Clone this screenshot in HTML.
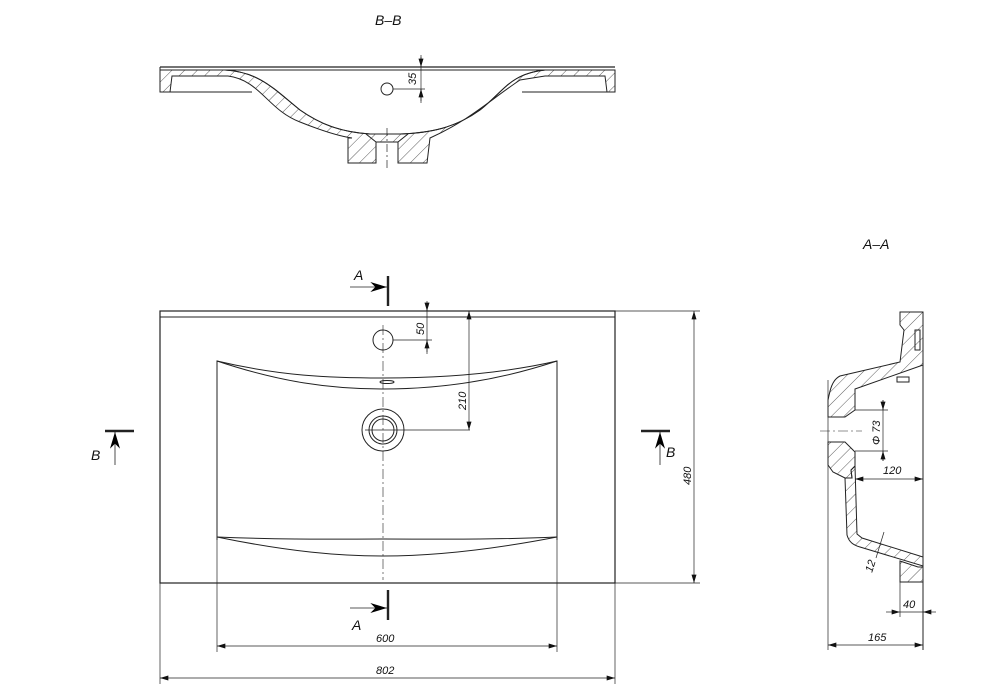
<!DOCTYPE html>
<html><head><meta charset="utf-8"><style>
html,body{margin:0;padding:0;background:#fff}
svg{display:block}
text{font-family:"Liberation Sans",sans-serif;font-style:italic;fill:#111}
</style></head><body>
<svg width="1001" height="700" viewBox="0 0 1001 700" xmlns="http://www.w3.org/2000/svg">
<defs>
<pattern id="h" patternUnits="userSpaceOnUse" width="9" height="9" patternTransform="rotate(45)">
<line x1="0" y1="0" x2="0" y2="9" stroke="#333" stroke-width="0.8"/>
</pattern>
<marker id="a" viewBox="0 0 10 6" refX="10" refY="3" markerWidth="9" markerHeight="5" orient="auto-start-reverse" markerUnits="userSpaceOnUse"><path d="M0,0 L10,3 L0,6 z" fill="#111"/></marker>
<marker id="b" viewBox="0 0 10 6" refX="10" refY="3" markerWidth="18" markerHeight="10" orient="auto" markerUnits="userSpaceOnUse"><path d="M0,0 L10,3 L0,6 L3,3 z" fill="#000"/></marker>
</defs>
<g fill="none" stroke="#222" stroke-width="1">

<!-- ===== B-B section ===== -->
<text x="375" y="25" font-size="14" stroke="none">B–B</text>
<line x1="160" y1="67" x2="615" y2="67" stroke-width="1.2"/>
<line x1="160" y1="70" x2="615" y2="70"/>
<path d="M160,67 L160,92 L170,92 L172,76 L228,76 C260,80 268,110 300,122 C330,134 345,137 352,138 L348,138 L348,163 L376,163 L376,142 L398,142 L398,163 L427,163 L430,138 C470,120 490,100 520,80 L545,76 L605,76 L607,92 L615,92 L615,70 L545,70 C510,74 505,90 480,110 C455,128 430,133 400,134 L370,134 C340,132 320,124 300,110 C275,90 260,72 225,70 L160,70 Z" fill="url(#h)"/>
<path d="M225,70 C260,72 275,90 300,110 C320,124 340,132 370,134 L400,134 C430,133 455,128 480,110 C505,90 510,74 545,70"/>
<line x1="170" y1="92" x2="252" y2="92"/>
<line x1="522" y1="92" x2="607" y2="92"/>
<path d="M366,134 L376,142 L376,163 M408,134 L398,142 L398,163"/>
<line x1="387" y1="128" x2="387" y2="170" stroke-dasharray="8,3,2,3" stroke-width="0.7"/>
<circle cx="387" cy="89" r="6"/>
<line x1="393" y1="89" x2="425" y2="89" stroke-width="0.7"/>
<line x1="421" y1="55" x2="421" y2="103" stroke-width="0.7"/>
<line x1="421" y1="57" x2="421" y2="67" marker-end="url(#a)" stroke-width="0.7"/>
<line x1="421" y1="101" x2="421" y2="89" marker-end="url(#a)" stroke-width="0.7"/>
<text transform="translate(416,85) rotate(-90)" font-size="11" stroke="none">35</text>

<!-- ===== Plan view ===== -->
<rect x="160" y="311" width="455" height="272" stroke-width="1.2"/>
<line x1="160" y1="317" x2="615" y2="317"/>
<line x1="615" y1="311" x2="700" y2="311" stroke-width="0.7"/>
<line x1="615" y1="583" x2="700" y2="583" stroke-width="0.7"/>
<path d="M217,540 L217,361 C280,376 330,378 383,378 C440,378 500,374 557,361 L557,540"/>
<path d="M217,361 C280,382 330,389 383,389 C440,389 500,380 557,361"/>
<path d="M217,537 C290,540 340,539 383,539 C430,539 490,540 557,537"/>
<path d="M217,537 C290,552 340,556 383,556 C430,556 490,550 557,537"/>
<ellipse cx="387" cy="382" rx="7" ry="1.5"/>
<circle cx="383" cy="340" r="10"/>
<circle cx="383" cy="430" r="21"/>
<circle cx="383" cy="430" r="14"/>
<circle cx="383" cy="430" r="11"/>
<line x1="383" y1="325" x2="383" y2="580" stroke-dasharray="10,3,2,3" stroke-width="0.6"/>
<line x1="365" y1="430" x2="470" y2="430" stroke-width="0.7"/>
<line x1="393" y1="340" x2="432" y2="340" stroke-width="0.7"/>
<line x1="427" y1="301" x2="427" y2="354" stroke-width="0.7"/>
<line x1="427" y1="303" x2="427" y2="311" marker-end="url(#a)" stroke-width="0.7"/>
<line x1="427" y1="352" x2="427" y2="340" marker-end="url(#a)" stroke-width="0.7"/>
<text transform="translate(424,335) rotate(-90)" font-size="11" stroke="none">50</text>
<line x1="469" y1="311" x2="469" y2="430" stroke-width="0.7" marker-start="url(#a)" marker-end="url(#a)"/>
<text transform="translate(466,410) rotate(-90)" font-size="11" stroke="none">210</text>
<line x1="694" y1="311" x2="694" y2="583" stroke-width="0.7" marker-start="url(#a)" marker-end="url(#a)"/>
<text transform="translate(691,485) rotate(-90)" font-size="11" stroke="none">480</text>
<line x1="217" y1="540" x2="217" y2="652" stroke-width="0.7"/>
<line x1="557" y1="540" x2="557" y2="652" stroke-width="0.7"/>
<line x1="160" y1="583" x2="160" y2="684" stroke-width="0.7"/>
<line x1="615" y1="583" x2="615" y2="684" stroke-width="0.7"/>
<line x1="217" y1="646" x2="557" y2="646" stroke-width="0.7" marker-start="url(#a)" marker-end="url(#a)"/>
<text x="376" y="642" font-size="11" stroke="none">600</text>
<line x1="160" y1="678" x2="615" y2="678" stroke-width="0.7" marker-start="url(#a)" marker-end="url(#a)"/>
<text x="376" y="674" font-size="11" stroke="none">802</text>
<line x1="388" y1="276" x2="388" y2="306" stroke-width="2.4"/>
<line x1="350" y1="287" x2="387" y2="287" marker-end="url(#b)" stroke-width="0.8"/>
<text x="354" y="280" font-size="14" stroke="none">A</text>
<line x1="388" y1="590" x2="388" y2="620" stroke-width="2.4"/>
<line x1="350" y1="608" x2="387" y2="608" marker-end="url(#b)" stroke-width="0.8"/>
<text x="352" y="630" font-size="14" stroke="none">A</text>
<line x1="105" y1="431" x2="134" y2="431" stroke-width="2.4"/>
<line x1="115" y1="465" x2="115" y2="432" marker-end="url(#b)" stroke-width="0.8"/>
<text x="91" y="460" font-size="14" stroke="none">B</text>
<line x1="641" y1="431" x2="670" y2="431" stroke-width="2.4"/>
<line x1="660" y1="465" x2="660" y2="432" marker-end="url(#b)" stroke-width="0.8"/>
<text x="666" y="457" font-size="14" stroke="none">B</text>

<!-- ===== A-A section ===== -->
<text x="863" y="249" font-size="14" stroke="none">A–A</text>
<line x1="923" y1="312" x2="923" y2="650" stroke-width="1"/>
<line x1="828" y1="380" x2="828" y2="650" stroke-width="0.7"/>
<path d="M900,312 L923,312 L923,365 L855,389 L855,410 L845,417 L828,417 L828,400 C830,390 832,380 840,376 L900,362 L904,330 L900,325 Z" fill="url(#h)"/>
<path d="M828,442 L845,442 L855,452 L855,466 L851,470 L852,478 L845,478 L833,472 L828,465 Z" fill="url(#h)"/>
<path d="M845,478 L847,535 C849,542 853,545 860,547 L923,566 L923,557 L862,538 L857,534 L855,466 L851,470 L852,478 Z" fill="url(#h)"/>
<path d="M900,561 L918,567 L923,567 L923,582 L900,582 Z" fill="url(#h)"/>
<rect x="915" y="330" width="5" height="20"/>
<rect x="897" y="377" width="12" height="5"/>
<line x1="820" y1="431" x2="862" y2="431" stroke-dasharray="10,3,2,3" stroke-width="0.6"/>
<line x1="855" y1="410" x2="888" y2="410" stroke-width="0.7"/>
<line x1="855" y1="451" x2="888" y2="451" stroke-width="0.7"/>
<line x1="883" y1="400" x2="883" y2="461" stroke-width="0.7"/>
<line x1="883" y1="400" x2="883" y2="410" marker-end="url(#a)" stroke-width="0.7"/>
<line x1="883" y1="461" x2="883" y2="451" marker-end="url(#a)" stroke-width="0.7"/>
<text transform="translate(880,445) rotate(-90)" font-size="11" stroke="none">Φ 73</text>
<line x1="855" y1="479" x2="923" y2="479" stroke-width="0.7" marker-start="url(#a)" marker-end="url(#a)"/>
<text x="883" y="474" font-size="11" stroke="none">120</text>
<line x1="884" y1="532" x2="876" y2="558" stroke-width="0.7"/>
<text transform="translate(872,573) rotate(-72)" font-size="11" stroke="none">12</text>
<line x1="900" y1="582" x2="900" y2="617" stroke-width="0.7"/>
<line x1="886" y1="612" x2="900" y2="612" marker-end="url(#a)" stroke-width="0.7"/>
<line x1="936" y1="612" x2="923" y2="612" marker-end="url(#a)" stroke-width="0.7"/>
<line x1="900" y1="612" x2="923" y2="612" stroke-width="0.7"/>
<text x="903" y="608" font-size="11" stroke="none">40</text>
<line x1="828" y1="645" x2="923" y2="645" stroke-width="0.7" marker-start="url(#a)" marker-end="url(#a)"/>
<text x="868" y="641" font-size="11" stroke="none">165</text>
</g>
</svg>
</body></html>
